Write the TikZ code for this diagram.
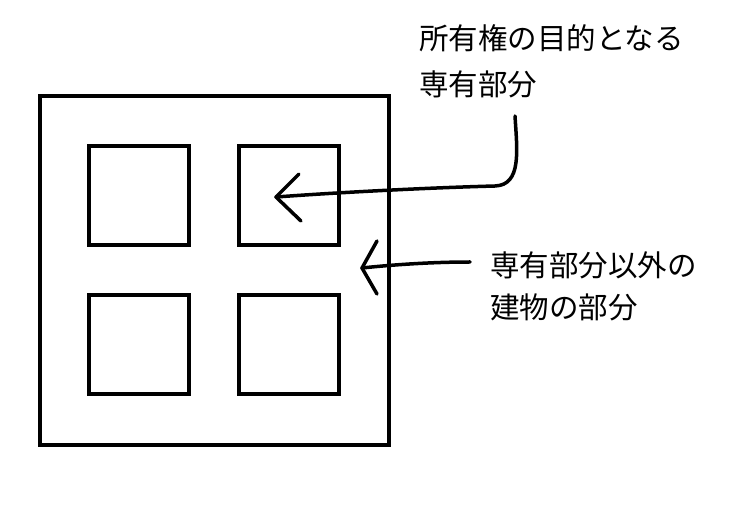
\documentclass[tikz,border=0pt]{standalone}
\usepackage{fontspec}
\newfontfamily\cjk{Noto Sans CJK JP}
\tikzset{
  wall/.style={line width=4pt},
  pen/.style={line width=3.5pt,line cap=round,line join=round},
  label/.style={font=\cjk\fontsize{29.5}{36}\selectfont,anchor=west,align=left,inner sep=0pt}
}
\begin{document}
\begin{tikzpicture}[x=1pt,y=-1pt]

\useasboundingbox (0,0) rectangle (731,510);

%%%%%%%%%%%%%%%%%%%%%%%%%%%%%%%%%%%%%%

\draw [wall] (40,96) rectangle (389,445);

\draw [wall] (89,146) rectangle +(100,99);
\draw [wall] (239,146) rectangle +(100,99);
\draw [wall] (89,295) rectangle +(100,99);
\draw [wall] (239,295) rectangle +(100,99);

%%%%%%%%%%%%%%%%%%%%%%%%%%%%%%%%%%%%%%

\node [label] (own) at (419,38) {所有権の目的となる};
\node [label] (sen) at (419,84) {専有部分};

\coordinate (a1) at (515,116);
\coordinate (h1) at (276,197);
\draw [pen] (a1) .. controls (517,150) and (522,185) .. (495,186)
  .. controls (420,188) and (330,193) .. (h1);
\draw [pen] (299,174) -- (h1) -- (301,221);

%%%%%%%%%%%%%%%%%%%%%%%%%%%%%%%%%%%%%%

\node [label] (kyo) at (490,265) {専有部分以外の};
\node [label] (bld) at (490,307) {建物の部分};

\coordinate (a2) at (470,262);
\coordinate (h2) at (362,268);
\draw [pen] (a2) .. controls (430,262) and (390,265) .. (h2);
\draw [pen] (377,241) -- (h2) -- (377,294);

\end{tikzpicture}
\end{document}
